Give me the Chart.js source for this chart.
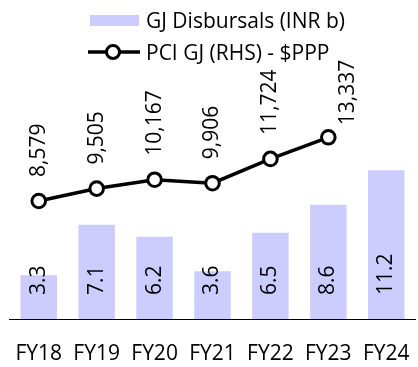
<!DOCTYPE html>
<html>
<head>
<meta charset="utf-8">
<script src="https://cdn.jsdelivr.net/npm/chart.js@4.4.0/dist/chart.umd.min.js"></script>
<style>
    html, body { margin: 0; padding: 0; background: #fff; overflow: hidden; }
    body { width: 418px; height: 367px; position: relative; font-family: 'Open Sans', sans-serif; }
    .chart-box { position: absolute; left: 0; top: 0; width: 425px; height: 367px; }
    .legend { position: absolute; left: 88px; top: 0; font-size: 21px; line-height: 26px; color: #000; }
    .legend-row { position: absolute; left: 0; white-space: nowrap; }
    .legend-row svg { position: absolute; left: 0; top: 0; }
    .legend-row span { position: absolute; left: 58px; top: 0; }
</style>
</head>
<body>
<div class="chart-box"><canvas id="gjChart"></canvas></div>
<div class="legend">
    <div class="legend-row" style="top: 7px;">
        <svg width="56" height="26"><rect x="2" y="8" width="49" height="11" fill="#CCCCFF"/></svg>
        <span>GJ Disbursals (INR b)</span>
    </div>
    <div class="legend-row" style="top: 39px;">
        <svg width="56" height="26"><line x1="0" y1="13" x2="52" y2="13" stroke="#000" stroke-width="3.5"/><circle cx="25" cy="13" r="6.5" fill="#fff" stroke="#000" stroke-width="3"/></svg>
        <span>PCI GJ (RHS) - $PPP</span>
    </div>
</div>
<script>
// Data
const years = ['FY18', 'FY19', 'FY20', 'FY21', 'FY22', 'FY23', 'FY24'];
const disbursals = [3.3, 7.1, 6.2, 3.6, 6.5, 8.6, 11.2];
const pciGj = [8579, 9505, 10167, 9906, 11724, 13337, null];

// Axis ranges (both axes are hidden in the original)
const leftMin = 0;
const leftMax = 19.5;
const rightMin = -234;
const rightMax = 19109;

// Rotated value labels, drawn straight from the scales
const valueLabels = {
    id: 'valueLabels',
    afterDatasetsDraw(chart) {
        const ctx = chart.ctx;
        ctx.save();
        ctx.font = '21px "Open Sans"';
        ctx.fillStyle = '#000';
        ctx.textAlign = 'left';
        ctx.textBaseline = 'middle';

        // bars: text starts just above the base
        const base = chart.scales.y.getPixelForValue(0);
        chart.getDatasetMeta(1).data.forEach((bar, i) => {
            drawUp(ctx, disbursals[i].toFixed(1), bar.x, base - 24);
        });

        // line points: text starts above the marker
        chart.getDatasetMeta(0).data.forEach((pt, i) => {
            if (pciGj[i] == null) return;
            const txt = pciGj[i].toLocaleString('en-US');
            if (i === pciGj.length - 2) {
                // last label is pushed to the right in the original
                drawUp(ctx, txt, pt.x + 20, pt.y - 12);
            } else {
                drawUp(ctx, txt, pt.x, pt.y - 24);
            }
        });
        ctx.restore();
    }
};

function drawUp(ctx, txt, x, y) {
    ctx.save();
    ctx.translate(x, y);
    ctx.rotate(-Math.PI / 2);
    ctx.fillText(txt, 0, 0);
    ctx.restore();
}

function initChart() {
    const ctx = document.getElementById('gjChart').getContext('2d');
    Chart.defaults.font.family = '"Open Sans"';
    Chart.defaults.color = '#000';
    new Chart(ctx, {
        type: 'bar',
        data: {
            labels: years,
            datasets: [{
                type: 'line',
                label: 'PCI GJ (RHS) - $PPP',
                data: pciGj,
                yAxisID: 'y1',
                borderColor: '#000',
                borderWidth: 3.5,
                pointRadius: 6.8,
                pointBorderWidth: 3,
                pointBackgroundColor: '#fff',
                pointBorderColor: '#000',
                spanGaps: false
            }, {
                type: 'bar',
                label: 'GJ Disbursals (INR b)',
                data: disbursals,
                yAxisID: 'y',
                backgroundColor: '#CCCCFF',
                categoryPercentage: 1,
                barPercentage: 0.63
            }]
        },
        options: {
            responsive: false,
            animation: false,
            layout: {
                padding: { left: 7, right: 3, top: 60, bottom: 0 }
            },
            plugins: {
                legend: { display: false },
                tooltip: { enabled: false }
            },
            scales: {
                x: {
                    grid: { display: false, drawTicks: false },
                    border: { display: true, color: '#000', width: 1 },
                    ticks: {
                        padding: 22,
                        font: { size: 21 },
                        color: '#000',
                        maxRotation: 0,
                        autoSkip: false
                    },
                    afterFit(scale) {
                        // keep the axis band fixed so the plot sits where the original does
                        scale.height = 48;
                        scale.paddingLeft = 0;
                        scale.paddingRight = 0;
                    }
                },
                y: {
                    display: false,
                    min: leftMin,
                    max: leftMax
                },
                y1: {
                    display: false,
                    position: 'right',
                    min: rightMin,
                    max: rightMax
                }
            }
        },
        plugins: [valueLabels]
    });
}

document.addEventListener('DOMContentLoaded', function() {
    const canvas = document.getElementById('gjChart');
    canvas.width = 425;
    canvas.height = 367;
    document.fonts.load('21px "Open Sans"').then(initChart, initChart);
});
</script>
</body>
</html>
